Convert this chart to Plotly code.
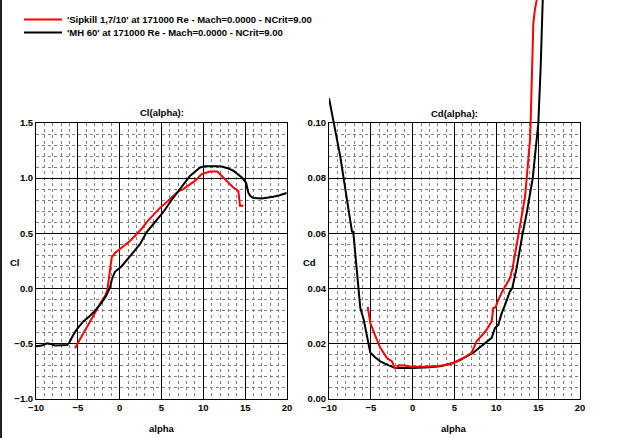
import plotly.graph_objects as go

# ---------------- data ----------------
name_sip = "'Sipkill 1,7/10' at 171000 Re - Mach=0.0000 - NCrit=9.00"
name_mh = "'MH 60' at 171000 Re - Mach=0.0000 - NCrit=9.00"

cl_sip_alpha = [-5.35, -4.0, -2.6, -2.15, -1.75, -1.48, -1.3, -1.1, -0.95, -0.56, 0.04, 0.6, 1.23,
                2.0, 2.63, 3.23, 4.0, 4.82, 5.6, 6.4, 7.0, 7.6, 8.3, 9.0, 9.8, 10.8, 11.67,
                12.2, 12.8, 13.58, 14.18, 14.38, 14.78]
cl_sip = [-0.545, -0.36, -0.175, -0.115, -0.07, -0.02, 0.08, 0.2, 0.28, 0.32, 0.356, 0.39, 0.43,
          0.49, 0.54, 0.60, 0.66, 0.73, 0.78, 0.84, 0.88, 0.90, 0.94, 0.975, 1.036, 1.06, 1.06,
          1.02, 0.975, 0.915, 0.885, 0.75, 0.75]

cl_mh_alpha = [-10.0, -9.3, -8.7, -8.2, -7.7, -7.0, -6.3, -6.0, -5.6, -5.1, -4.35, -3.7, -3.15,
               -2.6, -2.15, -1.63, -1.4, -1.16, -0.9, -0.56, 0.24, 1.23, 2.43, 3.23, 4.2, 5.2,
               6.1, 7.0, 7.7, 8.4, 9.0, 9.6, 10.2, 10.8, 11.5, 12.2, 12.9, 13.58, 14.1, 14.6,
               15.1, 15.25, 15.37, 15.6, 15.97, 16.97, 18.36, 19.1, 19.96]
cl_mh = [-0.525, -0.52, -0.50, -0.505, -0.52, -0.52, -0.515, -0.49, -0.43, -0.37, -0.30, -0.26,
         -0.22, -0.17, -0.13, -0.07, -0.03, 0.006, 0.09, 0.15, 0.20, 0.29, 0.40, 0.51, 0.60, 0.69,
         0.79, 0.885, 0.95, 1.02, 1.06, 1.097, 1.107, 1.11, 1.108, 1.106, 1.09, 1.067, 1.04,
         1.006, 0.96, 0.91, 0.87, 0.84, 0.82, 0.815, 0.83, 0.845, 0.865]

cd_sip_alpha = [-5.37, -5.06, -4.5, -3.87, -3.07, -2.47, -2.15, -1.9, -1.67, -0.9, -0.32, 0.5,
                1.5, 2.47, 3.66, 4.86, 5.66, 6.4, 7.05, 7.65, 8.44, 8.85, 9.44, 9.64, 9.9,
                10.24, 10.83, 11.04, 11.63, 11.95, 12.7, 13.43, 13.63, 14.02, 14.1, 14.22,
                14.42, 14.6, 14.82, 14.95]
cd_sip = [0.0332, 0.0274, 0.023, 0.0184, 0.0147, 0.0135, 0.0111, 0.0112, 0.0121, 0.012, 0.0115,
          0.0114, 0.0115, 0.0117, 0.012, 0.0129, 0.0141, 0.0153, 0.0166, 0.0208, 0.0235, 0.025,
          0.028, 0.0329, 0.033, 0.0359, 0.0395, 0.0407, 0.0437, 0.0474, 0.060, 0.0733, 0.080,
          0.0938, 0.100, 0.1144, 0.136, 0.141, 0.1446, 0.150]

cd_mh_alpha = [-10.0, -9.44, -8.65, -7.85, -7.25, -7.1, -6.95, -6.65, -6.26, -5.85, -5.5, -5.06,
               -4.5, -3.87, -2.87, -2.07, -0.08, 0.88, 2.0, 3.27, 4.86, 5.7, 6.46, 7.25, 8.0,
               8.6, 9.04, 9.44, 9.84, 10.24, 10.64, 11.04, 11.24, 11.63, 11.9, 12.43, 13.15,
               13.63, 14.35, 15.02, 15.3, 15.54, 15.6]
cd_mh = [0.109, 0.0999, 0.0878, 0.0721, 0.0606, 0.0605, 0.055, 0.0443, 0.0329, 0.0286, 0.023,
         0.0166, 0.015, 0.0135, 0.012, 0.0111, 0.0111, 0.0111, 0.0113, 0.0117, 0.0129, 0.014,
         0.0153, 0.0166, 0.0185, 0.0198, 0.021, 0.022, 0.0256, 0.0268, 0.031, 0.034, 0.0359,
         0.0389, 0.040, 0.0474, 0.060, 0.0673, 0.080, 0.100, 0.1204, 0.1446, 0.150]

x_ticks = [-10, -5, 0, 5, 10, 15, 20]
cl_ticks = [-1.0, -0.5, 0.0, 0.5, 1.0, 1.5]
cd_ticks = [0.0, 0.02, 0.04, 0.06, 0.08, 0.10]

# ---------------- layout helpers ----------------
W, H = 640, 438
FONT = "Liberation Sans, Arial, sans-serif"
FS = 9.5


def px(x):
    return x / W


def py(y):
    return 1 - y / H


top_px, bot_px = 123, 398.5
ydom = [py(bot_px), py(top_px)]
left_dom = [px(36), px(287)]
right_dom = [px(329), px(580)]
cd_max = 0.10
cd_ext = cd_max * bot_px / (bot_px - top_px)

RED = "#ff0000"
BLACK = "#000000"
LW = 2

fig = go.Figure()
# placeholder so the Cd grid subplot (x2/y2) is drawn first
fig.add_trace(go.Scatter(x=[None], y=[None], xaxis="x2", yaxis="y2", showlegend=False,
                         hoverinfo="skip"))
fig.add_trace(go.Scatter(x=cl_sip_alpha, y=cl_sip, mode="lines", name=name_sip,
                         line=dict(color=RED, width=LW), xaxis="x", yaxis="y", legend="legend"))
fig.add_trace(go.Scatter(x=cl_mh_alpha, y=cl_mh, mode="lines", name=name_mh,
                         line=dict(color=BLACK, width=LW), xaxis="x", yaxis="y", legend="legend2"))
fig.add_trace(go.Scatter(x=cd_mh_alpha, y=cd_mh, mode="lines", name=name_mh, showlegend=False,
                         line=dict(color=BLACK, width=LW), xaxis="x3", yaxis="y3"))
fig.add_trace(go.Scatter(x=cd_sip_alpha, y=cd_sip, mode="lines", name=name_sip, showlegend=False,
                         line=dict(color=RED, width=LW), xaxis="x3", yaxis="y3"))

tickfont = dict(family=FONT, size=FS, color="#000000", weight="bold")
minor_grid = dict(showgrid=True, gridcolor="#808080", griddash="3px,3px", gridwidth=1)

common = dict(showline=True, mirror=True, linecolor="black", linewidth=1,
              showgrid=True, gridcolor="black", gridwidth=1, zeroline=False,
              ticks="", tickfont=tickfont, fixedrange=True)

legfont = dict(family=FONT, size=FS, color="black", weight="bold")

fig.update_layout(
    width=W, height=H,
    margin=dict(l=0, r=0, t=0, b=0, autoexpand=False),
    paper_bgcolor="white", plot_bgcolor="rgba(0,0,0,0)",
    xaxis=dict(domain=left_dom, anchor="y", range=[-10, 20], tickvals=x_ticks,
               minor=dict(dtick=1, tick0=0, **minor_grid), **common),
    yaxis=dict(domain=ydom, anchor="x", range=[-1.0, 1.5], tickvals=cl_ticks, tickformat=".1f",
               minor=dict(dtick=0.1, tick0=0, **minor_grid), **common),
    xaxis2=dict(domain=right_dom, anchor="y2", range=[-10, 20], tickvals=x_ticks,
                minor=dict(dtick=1, tick0=0, **minor_grid), **common),
    yaxis2=dict(domain=ydom, anchor="x2", range=[0, cd_max], tickvals=cd_ticks, tickformat=".2f",
                minor=dict(dtick=0.004, tick0=0, **minor_grid), **common),
    xaxis3=dict(domain=right_dom, anchor="y3", range=[-10, 20], visible=False, fixedrange=True),
    yaxis3=dict(domain=[ydom[0], 1.0], anchor="x3", range=[0, cd_ext], visible=False,
                fixedrange=True),
    legend=dict(x=px(19), y=py(5), xanchor="left", yanchor="top", bgcolor="rgba(0,0,0,0)",
                font=legfont, itemwidth=38),
    legend2=dict(x=px(19), y=py(18), xanchor="left", yanchor="top", bgcolor="rgba(0,0,0,0)",
                 font=legfont, itemwidth=38),
    showlegend=True,
)

labfont = dict(family=FONT, size=FS, color="black", weight="bold")
ann = [
    ("Cl(alpha):", 161.5, 112),
    ("Cd(alpha):", 454, 113),
    ("Cl", 15, 262),
    ("Cd", 309, 262),
    ("alpha", 162, 428),
    ("alpha", 454, 428),
]
for text, ax, ay in ann:
    fig.add_annotation(text=text, x=px(ax), y=py(ay), xref="paper", yref="paper",
                       xanchor="center", yanchor="middle", showarrow=False, font=labfont)

fig.add_shape(type="line", xref="paper", yref="paper", x0=px(1), x1=px(1), y0=0, y1=1,
              line=dict(color="#222222", width=2))

fig.write_html("out.html")
